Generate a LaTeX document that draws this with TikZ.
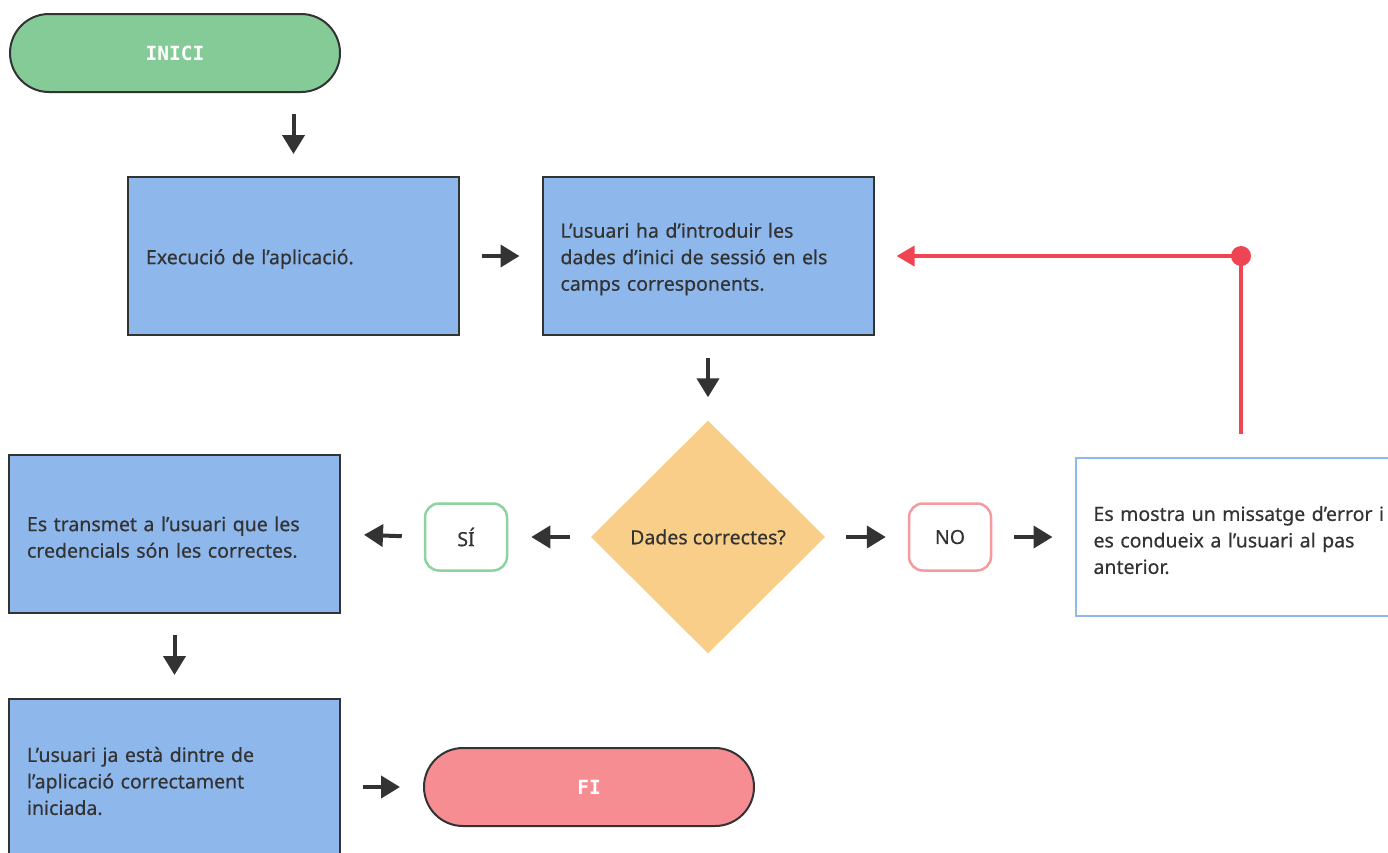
\documentclass[tikz,border=0pt]{standalone}
\usepackage{fontspec}
\setmainfont{Noto Sans}[FakeBold=0.5]
\newfontfamily\monob{DejaVu Sans Mono}
\usetikzlibrary{arrows.meta,shapes.geometric,calc}
\definecolor{dark}{HTML}{333333}
\definecolor{cgreen}{HTML}{84CB97}
\definecolor{cblue}{HTML}{8EB7EC}
\definecolor{cyellow}{HTML}{F9CE89}
\definecolor{cpink}{HTML}{F68D92}
\definecolor{cred}{HTML}{EF4451}
\definecolor{sigreen}{HTML}{8CD3A0}
\definecolor{nopink}{HTML}{F59A9E}
\definecolor{errblue}{HTML}{92B9EE}
\tikzset{
  body/.style={font=\fontsize{19.5}{26.5}\selectfont, text=dark},
  stepbox/.style={body, draw=dark, line width=2pt, fill=cblue, minimum width=331pt, minimum height=158pt,
    text width=295pt, inner xsep=18pt, inner ysep=0pt, align=left, execute at begin node={\rule{0pt}{21pt}}},
  errbox/.style={stepbox, draw=errblue, fill=white},
  term/.style={draw=dark, line width=2pt, rounded corners=39pt, minimum width=330pt, minimum height=78pt,
    inner sep=0pt, text=white, font=\monob\bfseries\fontsize{19.5}{20}\selectfont},
  answer/.style={body, fill=white, line width=2.5pt, rounded corners=14pt, minimum width=82pt, minimum height=67pt, inner sep=0pt},
  arr/.style={draw=dark, line width=4pt, -{Triangle[length=19pt,width=22pt]}},
  redarr/.style={draw=cred, line width=3.5pt, -{Triangle[length=18pt,width=20pt]}},
}
\begin{document}
\begin{tikzpicture}[x=1pt,y=-1pt]
\useasboundingbox (0,0) rectangle (1388,852);
\clip (0,0) rectangle (1388,852);
\node[term, fill=cgreen] (inici) at (175,53) {INICI};
\node[stepbox] (exec) at (293.5,256) {Execució de l’aplicació.};
\node[stepbox] (login) at (708,256) {L’usuari ha d’introduir les\\dades d’inici de sessió en els\\camps corresponents.};
\node[diamond, fill=cyellow, minimum width=234pt, minimum height=233pt, inner sep=0pt, body] (dec) at (708,537) {Dades correctes?};
\node[answer, draw=sigreen] (si) at (466,537) {SÍ};
\node[answer, draw=nopink] (no) at (950,537) {NO};
\node[stepbox] (trans) at (174.5,534) {Es transmet a l’usuari que les\\credencials són les correctes.};
\node[errbox] (err) at (1241,537) {Es mostra un missatge d’error i\\es condueix a l’usuari al pas\\anterior.};
\node[stepbox] (final) at (174.5,778) {L’usuari ja està dintre de\\l’aplicació correctament\\iniciada.};
\node[term, fill=cpink] (fi) at (589,787) {FI};

\draw[arr, shorten <=21pt, shorten >=22pt] (inici.south -| exec.north) -- (exec.north);
\draw[arr, shorten <=22pt, shorten >=22pt] (exec.east) -- (login.west);
\draw[arr, shorten <=22pt, shorten >=23pt] (login.south) -- (dec.north);
\draw[arr, shorten <=21pt, shorten >=23pt] (dec.west) -- (si.east);
\draw[arr, shorten <=22pt, shorten >=23pt] (si.west) -- (trans.east);
\draw[arr, shorten <=21pt, shorten >=22pt] (dec.east) -- (no.west);
\draw[arr, shorten <=22pt, shorten >=22pt] (no.east) -- (err.west);
\draw[arr, shorten <=21pt, shorten >=23pt] (trans.south) -- (final.north);
\draw[arr, shorten <=22pt, shorten >=23pt] (final.east |- fi.west) -- (fi.west);

\coordinate (corner) at (err.north |- login.east);
\draw[redarr, shorten <=23pt, shorten >=22pt] (err.north) -- (corner) -- (login.east);
\fill[cred] (corner) circle (10pt);
\end{tikzpicture}
\end{document}
